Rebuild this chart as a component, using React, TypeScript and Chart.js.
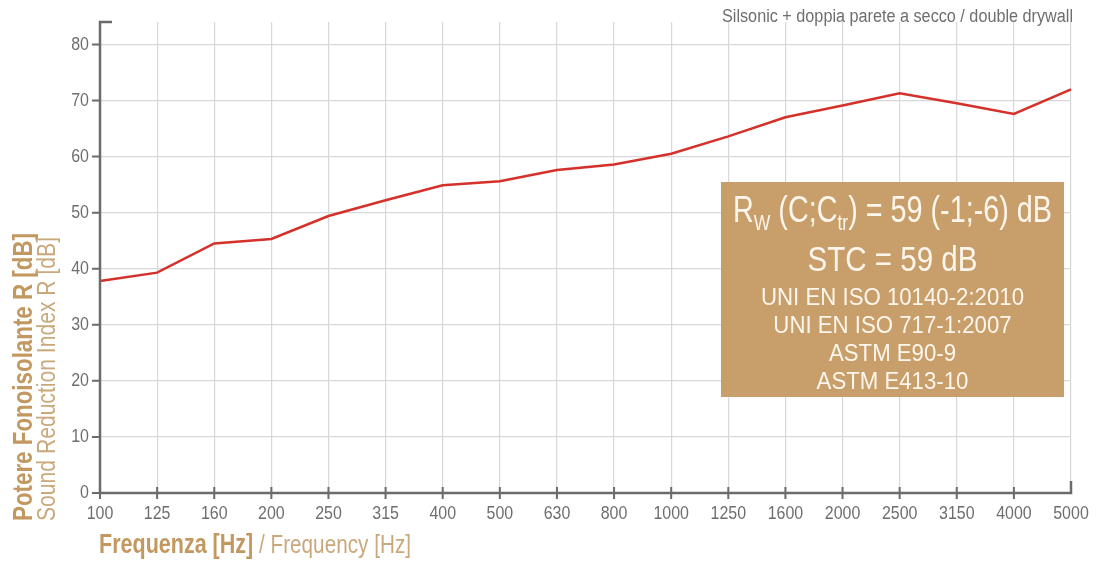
import React, { useEffect, useRef } from "react";
import { Chart, registerables } from "chart.js";

Chart.register(...registerables);

const frequencies = ["100", "125", "160", "200", "250", "315", "400", "500", "630", "800", "1000", "1250", "1600", "2000", "2500", "3150", "4000", "5000"];
const soundReduction = [37.8, 39.3, 44.5, 45.3, 49.4, 52.2, 54.9, 55.6, 57.6, 58.6, 60.5, 63.6, 67.0, 69.1, 71.3, 69.5, 67.6, 72.0];
const yTicks = [0, 10, 20, 30, 40, 50, 60, 70, 80];

const chartTitle = "Silsonic + doppia parete a secco / double drywall";
const yTitleBold = "Potere Fonoisolante R [dB]";
const yTitleLight = "Sound Reduction Index R [dB]";
const xTitleBold = "Frequenza [Hz]";
const xTitleLight = " / Frequency [Hz]";
const stcLine = "STC = 59 dB";
const boxLines = ["UNI EN ISO 10140-2:2010", "UNI EN ISO 717-1:2007", "ASTM E90-9", "ASTM E413-10"];

const FONT = "'Liberation Sans', Arial, sans-serif";
const AXIS = "#6b6b6b";
const LABEL = "#6e6e6e";
const TAN = "#c39860";
const TAN_LIGHT = "#c9a97c";
const BOX = "#c89e6a";
const BOX_TEXT = "#fdf6ec";

type Run = { t: string; font: string; color: string; dy?: number };

function drawRuns(ctx: CanvasRenderingContext2D, runs: Run[], x: number, y: number, align: "left" | "center" | "right", opts: { width?: number; sx?: number }) {
  let total = 0;
  runs.forEach((r) => {
    ctx.font = r.font;
    total += ctx.measureText(r.t).width;
  });
  const sx = opts.width ? opts.width / total : opts.sx || 1;
  const w = total * sx;
  const start = align === "left" ? x : align === "center" ? x - w / 2 : x - w;
  ctx.save();
  ctx.translate(start, y);
  ctx.scale(sx, 1);
  ctx.textAlign = "left";
  let px = 0;
  runs.forEach((r) => {
    ctx.font = r.font;
    ctx.fillStyle = r.color;
    ctx.fillText(r.t, px, r.dy || 0);
    px += ctx.measureText(r.t).width;
  });
  ctx.restore();
  return sx;
}

const decorPlugin = {
  id: "decor",
  afterDraw(chart: any) {
    const ctx = chart.ctx as CanvasRenderingContext2D;
    const { left, right, top, bottom } = chart.chartArea;
    const xs = chart.scales.x;
    const ys = chart.scales.y;
    ctx.save();
    // axes
    ctx.strokeStyle = AXIS;
    ctx.lineWidth = 2.5;
    ctx.beginPath();
    ctx.moveTo(left + 12, top);
    ctx.lineTo(left, top);
    ctx.lineTo(left, bottom);
    ctx.lineTo(right, bottom);
    ctx.lineTo(right, bottom - 12);
    ctx.stroke();
    ctx.lineWidth = 2;
    ctx.beginPath();
    yTicks.forEach((v) => {
      const y = ys.getPixelForValue(v);
      ctx.moveTo(left - 8, y);
      ctx.lineTo(left, y);
    });
    frequencies.forEach((f, i) => {
      if (i === frequencies.length - 1) return;
      const x = xs.getPixelForValue(i);
      ctx.moveTo(x, bottom - 6);
      ctx.lineTo(x, bottom + 6);
    });
    ctx.stroke();

    ctx.textBaseline = "middle";
    // tick labels
    const tickFont = `19px ${FONT}`;
    frequencies.forEach((f, i) => {
      drawRuns(ctx, [{ t: f, font: tickFont, color: LABEL }], xs.getPixelForValue(i), bottom + 21, "center", { sx: 0.84 });
    });
    yTicks.forEach((v) => {
      drawRuns(ctx, [{ t: String(v), font: tickFont, color: LABEL }], left - 11, ys.getPixelForValue(v), "right", { sx: 0.84 });
    });

    // title
    drawRuns(ctx, [{ t: chartTitle, font: `18px ${FONT}`, color: LABEL }], 1073, 17, "right", { width: 351 });

    // y titles
    ctx.save();
    ctx.translate(25, 521);
    ctx.rotate(-Math.PI / 2);
    drawRuns(ctx, [{ t: yTitleBold, font: `bold 27px ${FONT}`, color: TAN }], 0, 0, "left", { width: 288 });
    drawRuns(ctx, [{ t: yTitleLight, font: `26px ${FONT}`, color: TAN_LIGHT }], 0, 23, "left", { width: 284 });
    ctx.restore();

    // x title
    drawRuns(
      ctx,
      [
        { t: xTitleBold, font: `bold 27px ${FONT}`, color: TAN },
        { t: xTitleLight, font: `26px ${FONT}`, color: TAN_LIGHT },
      ],
      99,
      546,
      "left",
      { width: 312 }
    );

    // info box
    const bx = 721, by = 182, bw = 343, bh = 215;
    ctx.fillStyle = BOX;
    ctx.fillRect(bx, by, bw, bh);
    const cx = bx + bw / 2;
    ctx.textBaseline = "alphabetic";
    const big = `36px ${FONT}`;
    const sub = `22px ${FONT}`;
    drawRuns(
      ctx,
      [
        { t: "R", font: big, color: BOX_TEXT },
        { t: "W", font: sub, color: BOX_TEXT, dy: 8 },
        { t: " (C;C", font: big, color: BOX_TEXT },
        { t: "tr", font: sub, color: BOX_TEXT, dy: 8 },
        { t: ") = 59 (-1;-6) dB", font: big, color: BOX_TEXT },
      ],
      cx,
      222,
      "center",
      { width: 319 }
    );
    drawRuns(ctx, [{ t: stcLine, font: `35px ${FONT}`, color: BOX_TEXT }], cx, 271, "center", { width: 170 });
    ctx.textBaseline = "middle";
    let sx = 0.85;
    boxLines.forEach((t, i) => {
      if (i === 0) {
        sx = drawRuns(ctx, [{ t, font: `24px ${FONT}`, color: BOX_TEXT }], cx, 298 + i * 28, "center", { width: 263 });
      } else {
        drawRuns(ctx, [{ t, font: `24px ${FONT}`, color: BOX_TEXT }], cx, 298 + i * 28, "center", { sx });
      }
    });
    ctx.restore();
  },
};

export default function App() {
  const ref = useRef<HTMLCanvasElement>(null);
  useEffect(() => {
    if (!ref.current) return;
    const chart = new Chart(ref.current, {
      type: "line",
      data: {
        labels: frequencies,
        datasets: [
          {
            data: soundReduction,
            borderColor: "#d5302a",
            borderWidth: 2.5,
            pointRadius: 0,
            tension: 0,
            fill: false,
          },
        ],
      },
      options: {
        responsive: false,
        animation: false,
        devicePixelRatio: 1,
        layout: { padding: { left: 0, top: 22, right: 29, bottom: 0 } },
        plugins: { legend: { display: false }, tooltip: { enabled: false } },
        scales: {
          x: {
            type: "category",
            offset: false,
            grid: { color: "#d8d8d8", lineWidth: 1.2, drawTicks: false },
            border: { display: false },
            ticks: { display: false, autoSkip: false },
            afterFit: (s: any) => { s.height = 68; },
          },
          y: {
            type: "linear",
            min: 0,
            max: 84,
            grid: { color: (c: any) => (c.tick && c.tick.value === 0 ? "rgba(0,0,0,0)" : "#d8d8d8"), lineWidth: 1.2, drawTicks: false },
            border: { display: false },
            ticks: { display: false, stepSize: 10 },
            afterBuildTicks: (s: any) => { s.ticks = yTicks.map((v) => ({ value: v })); },
            afterFit: (s: any) => { s.width = 100; },
          },
        },
      },
      plugins: [decorPlugin],
    });
    return () => chart.destroy();
  }, []);
  return (
    <div style={{ position: "absolute", left: 0, top: 0, width: 1100, height: 561, background: "#fff" }}>
      <canvas ref={ref} width={1100} height={561} />
    </div>
  );
}
